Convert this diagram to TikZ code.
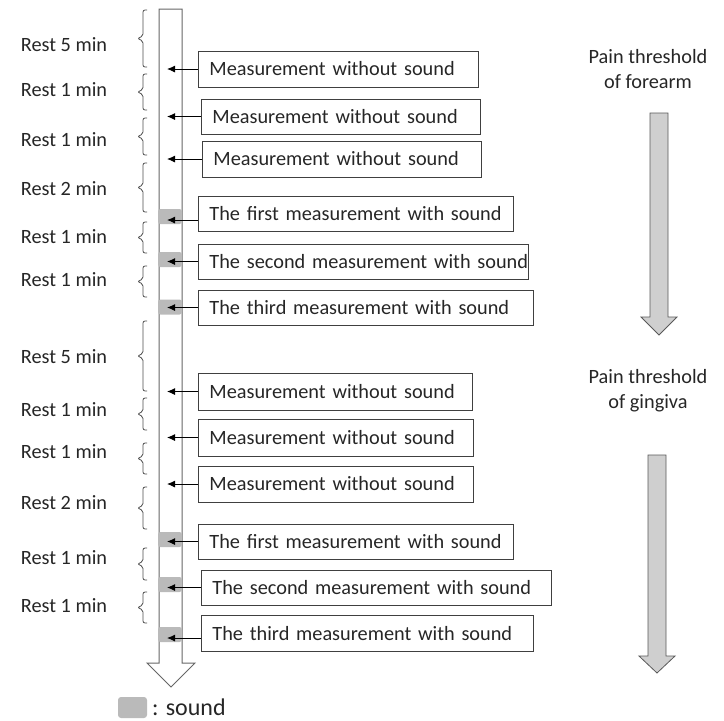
\documentclass[tikz,border=0pt]{standalone}
\usepackage{fontspec}
\setmainfont{Carlito}
\usetikzlibrary{arrows.meta}
\newcommand{\boxtext}[1]{\mbox{#1}}
\begin{document}
\begin{tikzpicture}[x=1pt,y=-1pt,
  txt/.style={font=\fontsize{20.3}{25}\selectfont, text=black!85},
  mbox/.style={txt, draw=black!75, line width=0.9pt, anchor=west, inner xsep=11pt, inner ysep=0pt, align=left},
  conn/.style={-{Latex[length=8pt,width=7pt]}, line width=0.9pt},
  snd/.style={fill=black!27, rounded corners=2.5pt, draw=none, inner sep=0pt},
  rbrace/.style={draw=black!70, line width=0.8pt, rounded corners=2pt},
  garrow/.style={fill=black!19, draw=black!65, line width=0.8pt},
  mainbar/.style={draw=black!60, line width=1pt, fill=white}]
\useasboundingbox (0,0) rectangle (724,721);

% main time bar
\draw[mainbar] (159,9) -- (182,9) -- (182,663) -- (195,663) -- (171,687) -- (147,663) -- (159,663) -- cycle;
\coordinate (tipx) at (167,0);

% sound marks
\node[snd, minimum width=24pt, minimum height=15pt] (s4) at (170,216.5) {};
\node[snd, minimum width=24pt, minimum height=15pt] (s5) at (170,259.5) {};
\node[snd, minimum width=24pt, minimum height=15pt] (s6) at (170,307) {};
\node[snd, minimum width=24pt, minimum height=15pt] (s10) at (170,539.5) {};
\node[snd, minimum width=24pt, minimum height=15pt] (s11) at (170,584.5) {};
\node[snd, minimum width=24pt, minimum height=15pt] (s12) at (170,634.5) {};

% measurement boxes
\node[mbox, minimum width=280pt, minimum height=36pt, text width=258pt] (b1) at (198,69) {\boxtext{Measurement without sound}};
\node[mbox, minimum width=279pt, minimum height=35pt, text width=257pt] (b2) at (201,116.5) {\boxtext{Measurement without sound}};
\node[mbox, minimum width=279pt, minimum height=36pt, text width=257pt] (b3) at (202,159) {\boxtext{Measurement without sound}};
\node[mbox, minimum width=315pt, minimum height=35pt, text width=293pt] (b4) at (198,213.5) {\boxtext{The first measurement with sound}};
\node[mbox, minimum width=330pt, minimum height=35pt, text width=308pt] (b5) at (198,261.5) {\boxtext{The second measurement with sound}};
\node[mbox, minimum width=335pt, minimum height=35pt, text width=313pt] (b6) at (198,307.5) {\boxtext{The third measurement with sound}};
\node[mbox, minimum width=274pt, minimum height=37pt, text width=252pt] (b7) at (198,391.5) {\boxtext{Measurement without sound}};
\node[mbox, minimum width=275pt, minimum height=37pt, text width=253pt] (b8) at (198,437.5) {\boxtext{Measurement without sound}};
\node[mbox, minimum width=275pt, minimum height=36pt, text width=253pt] (b9) at (198,484) {\boxtext{Measurement without sound}};
\node[mbox, minimum width=315pt, minimum height=35pt, text width=293pt] (b10) at (198,541.5) {\boxtext{The first measurement with sound}};
\node[mbox, minimum width=350pt, minimum height=35pt, text width=328pt] (b11) at (201,587.5) {\boxtext{The second measurement with sound}};
\node[mbox, minimum width=332pt, minimum height=36pt, text width=310pt] (b12) at (201,633.5) {\boxtext{The third measurement with sound}};

% connectors
\foreach \b in {b1,b2,b3,b5,b6,b7,b8,b9,b10,b11}
  \draw[conn] (\b.west) -- (\b.west -| tipx);
\draw[conn] ([yshift=-6.5pt]b4.west) -- ([yshift=-6.5pt]b4.west -| tipx);
\draw[conn] ([yshift=-4.5pt]b12.west) -- ([yshift=-4.5pt]b12.west -| tipx);

% braces
\foreach \t/\bo [count=\i] in {10/67, 74/110, 118/155, 163/212, 222/253, 266/297, 321/391, 398/430, 443/474, 487/529, 548/580, 592/623}{
  \pgfmathsetmacro{\mid}{(\t+\bo)/2}
  \draw[rbrace] (147,\t) -- (143,\t) -- (143,\mid-2.5) -- (137.5,\mid) -- (143,\mid+2.5) -- (143,\bo) -- (147,\bo);
}

% rest labels
\foreach \y/\m [count=\i] in {45/5, 90/1, 140/1, 189/2, 237/1, 280/1, 357/5, 410/1, 452/1, 503/2, 558/1, 606/1}
  \node[txt] (r\i) at (64,\y) {Rest \m\ min};

% pain threshold arrows
\node[txt, align=center] (p1) at (648,69.5) {Pain threshold\\of forearm};
\draw[garrow] (650,113) -- (668,113) -- (668,317) -- (677,317) -- (659,335) -- (641,317) -- (650,317) -- cycle;
\node[txt, align=center] (p2) at (648,391) {Pain threshold\\of gingiva};
\draw[garrow] (648,455) -- (666,455) -- (666,656) -- (675,656) -- (657,673) -- (639,656) -- (648,656) -- cycle;

% legend
\node[snd, minimum width=29pt, minimum height=21pt, rounded corners=3pt] (leg) at (132.5,707.5) {};
\node[font=\fontsize{24}{28}\selectfont, text=black!85, anchor=west, inner sep=0pt] (legt) at (152,707) {: sound};
\end{tikzpicture}
\end{document}
